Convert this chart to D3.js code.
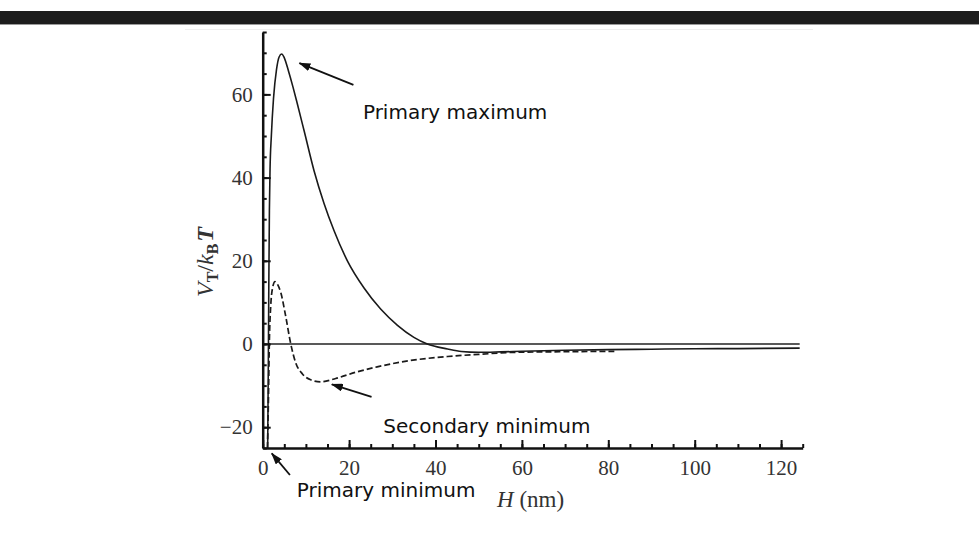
<!DOCTYPE html>
<html>
<head>
<meta charset="utf-8">
<title>Total interaction energy</title>
<script src="https://d3js.org/d3.v7.min.js"></script>
<style>
  body { margin: 0; background: #fff; }
</style>
</head>
<body>
<div id="vis"></div>
<script>

// values: separation H (nm) vs V_T / k_B T
const solidH = [1.15, 1.3, 1.42, 1.55, 1.7, 2.0, 2.5, 3.2, 3.8, 4.4, 5.0, 6.0, 7.0, 8.0, 9.6, 11.9, 14.2, 16.5, 19.6, 23.5, 27.3, 31.2, 35, 38.1, 42.8, 46, 50, 55, 60, 70, 80, 90, 100, 110, 124.3];
const solidV = [-25, -5, 15, 32, 42, 50, 59, 66, 69, 69.7, 68.8, 65.5, 61.8, 57.8, 51.2, 41.6, 33.8, 27.3, 20.0, 13.4, 8.4, 4.5, 1.6, 0, -1.2, -1.8, -2.0, -1.9, -1.75, -1.5, -1.35, -1.25, -1.15, -1.1, -1.0];

const dashedH = [1.1, 1.3, 1.55, 1.85, 2.2, 2.85, 3.5, 4.2, 5.3, 6.5, 7.6, 9.2, 11.1, 13.4, 16.9, 21.5, 26.5, 34, 42.8, 50, 58.2, 70, 81.4];
const dashedV = [-25, -15, 1, 9, 13, 15, 14.2, 12.3, 6.8, 0, -4.4, -7.2, -8.6, -9.1, -8.3, -6.8, -5.5, -4.0, -3.0, -2.5, -2.0, -1.85, -1.75];

const xTicks = [0, 20, 40, 60, 80, 100, 120];
const yTicks = [-20, 0, 20, 40, 60];
const labels = ["Primary maximum", "Secondary minimum", "Primary minimum"];

const width = 979, height = 545;

const svg = d3.select("#vis").append("svg")
  .attr("width", width)
  .attr("height", height)
  .attr("viewBox", [0, 0, width, height]);

// page header band
svg.append("rect").attr("x", 0).attr("y", 11).attr("width", width).attr("height", 13).attr("fill", "#1c1c1c");
svg.append("line").attr("x1", 0).attr("x2", width).attr("y1", 24.5).attr("y2", 24.5).attr("stroke", "#9a9a9a");
svg.append("line").attr("x1", 185).attr("x2", 813).attr("y1", 29.5).attr("y2", 29.5).attr("stroke", "#efefef");

const x = d3.scaleLinear().domain([0, 125]).range([262.7, 802.7]);
const y = d3.scaleLinear().domain([-25, 75]).range([448, 32]);

svg.append("clipPath").attr("id", "plot")
  .append("rect")
  .attr("x", x(0)).attr("y", y(75))
  .attr("width", x(125) - x(0)).attr("height", y(-25) - y(75));

//zero line
svg.append("line")
  .attr("x1", x(0)).attr("x2", x(d3.max(solidH)))
  .attr("y1", y(0)).attr("y2", y(0))
  .attr("stroke", "#222").attr("stroke-width", 1.3);

const line = d3.line()
  .x(d => x(d[0]))
  .y(d => y(d[1]))
  .curve(d3.curveMonotoneX);

svg.append("path")
  .datum(d3.zip(solidH, solidV))
  .attr("clip-path", "url(#plot)")
  .attr("d", line)
  .attr("fill", "none")
  .attr("stroke", "#1a1a1a")
  .attr("stroke-width", 1.6);

svg.append("path")
  .datum(d3.zip(dashedH, dashedV))
  .attr("clip-path", "url(#plot)")
  .attr("d", line)
  .attr("fill", "none")
  .attr("stroke", "#1a1a1a")
  .attr("stroke-width", 1.7)
  .attr("stroke-dasharray", "6,3");

// axes - minor ticks every 5, major ticks inward with labels
function styleAxis(g) {
  g.select(".domain").attr("stroke", "#111").attr("stroke-width", 2.5);
  g.selectAll(".tick line").attr("stroke", "#111").attr("stroke-width", 2);
  g.selectAll(".tick text")
    .attr("font-family", "'Liberation Serif', 'Times New Roman', serif")
    .attr("font-size", 21)
    .attr("fill", "#333");
}

svg.append("g")
  .attr("transform", `translate(0,${y(-25)})`)
  .call(d3.axisBottom(x).tickValues(d3.range(0, 126, 5)).tickSize(-4).tickSizeOuter(0).tickFormat(""))
  .call(styleAxis);

svg.append("g")
  .attr("transform", `translate(0,${y(-25)})`)
  .call(d3.axisBottom(x).tickValues(xTicks).tickSize(-8).tickSizeOuter(0).tickPadding(12))
  .call(g => g.select(".domain").remove())
  .call(styleAxis);

svg.append("g")
  .attr("transform", `translate(${x(0)},0)`)
  .call(d3.axisLeft(y).tickValues(d3.range(-25, 76, 5)).tickSize(-4).tickSizeOuter(0).tickFormat(""))
  .call(styleAxis);

svg.append("g")
  .attr("transform", `translate(${x(0)},0)`)
  .call(d3.axisLeft(y).tickValues(yTicks).tickSize(-8).tickSizeOuter(0).tickPadding(10))
  .call(g => g.select(".domain").remove())
  .call(styleAxis);

// axis titles
const xt = svg.append("text")
  .attr("x", 497).attr("y", 507)
  .attr("font-family", "'Liberation Serif', 'Times New Roman', serif")
  .attr("font-size", 23)
  .attr("fill", "#333");
xt.append("tspan").attr("font-style", "italic").text("H");
xt.append("tspan").text(" (nm)");

const yt = svg.append("text")
  .attr("transform", "translate(213,262) rotate(-90)")
  .attr("text-anchor", "middle")
  .attr("font-family", "'Liberation Serif', 'Times New Roman', serif")
  .attr("font-size", 24)
  .attr("fill", "#333");
yt.append("tspan").attr("font-style", "italic").text("V");
yt.append("tspan").attr("font-weight", "bold").attr("font-size", 16).attr("dy", 5).text("T");
yt.append("tspan").attr("dy", -5).text("/");
yt.append("tspan").attr("font-style", "italic").text("k");
yt.append("tspan").attr("font-weight", "bold").attr("font-size", 16).attr("dy", 5).text("B");
yt.append("tspan").attr("font-style", "italic").attr("font-weight", "bold").attr("dy", -5).attr("dx", 2).text("T");

// annotations, placed in data units
const notePos = [
  { tx: 23.2, ty: 54, from: [21.0, 62.3], to: [8.5, 67.5] },
  { tx: 27.9, ty: -21.4, from: [25.2, -12.7], to: [16.0, -9.7] },
  { tx: 7.9, ty: -36.8, from: [6.3, -31.5], to: [2.1, -26.3] }
];

svg.append("defs").append("marker")
  .attr("id", "head")
  .attr("markerUnits", "userSpaceOnUse")
  .attr("markerWidth", 12).attr("markerHeight", 8)
  .attr("refX", 11).attr("refY", 4)
  .attr("orient", "auto")
  .append("path")
  .attr("d", "M0,0 L12,4 L0,8 Z")
  .attr("fill", "#111");

svg.selectAll(".arrow")
  .data(notePos)
  .join("line")
  .attr("class", "arrow")
  .attr("x1", d => x(d.from[0])).attr("y1", d => y(d.from[1]))
  .attr("x2", d => x(d.to[0])).attr("y2", d => y(d.to[1]))
  .attr("stroke", "#111")
  .attr("stroke-width", 1.8)
  .attr("marker-end", "url(#head)");

svg.selectAll(".note")
  .data(labels)
  .join("text")
  .attr("class", "note")
  .attr("x", (d, i) => x(notePos[i].tx))
  .attr("y", (d, i) => y(notePos[i].ty))
  .attr("font-family", "'DejaVu Sans', sans-serif")
  .attr("font-size", 20)
  .attr("fill", "#111")
  .text(d => d);

</script>
</body>
</html>
